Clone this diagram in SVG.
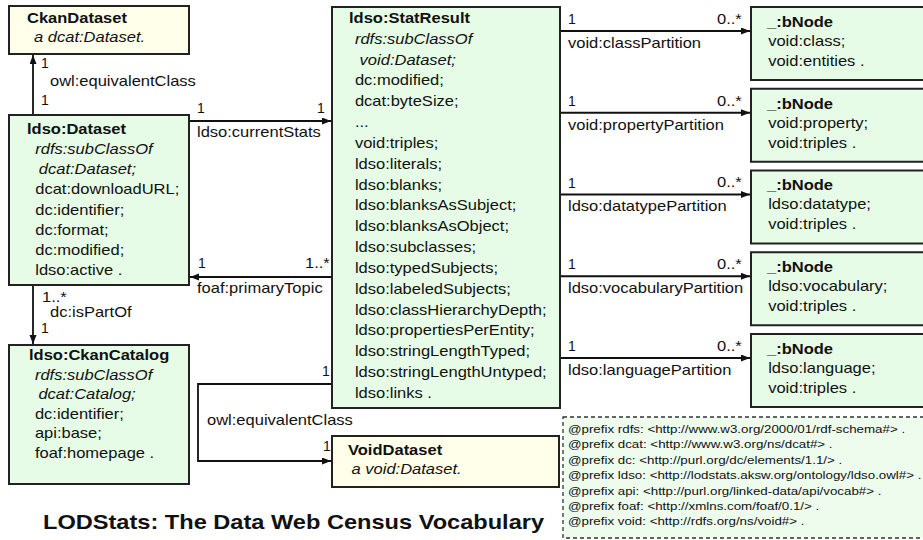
<svg xmlns="http://www.w3.org/2000/svg" width="923" height="540" viewBox="0 0 923 540">
<defs>
<style>
text{font-family:"Liberation Sans",Arial,sans-serif;font-size:14px;fill:#111}
.b{font-weight:bold}
.i{font-style:italic}
.green{fill:#E6FCE6;stroke:#222;stroke-width:2}
.yellow{fill:#FFFFEA;stroke:#222;stroke-width:2}
.con{fill:none;stroke:#111;stroke-width:1.8}
.pre{font-size:11.5px}
.ttl{font-size:20px;font-weight:bold}
</style>
<marker id="arr" markerUnits="userSpaceOnUse" markerWidth="10" markerHeight="8" refX="9" refY="3.5" orient="auto">
<path d="M0,0 L9,3.5 L0,7 z" fill="#111"/>
</marker>
</defs>
<rect width="923" height="540" fill="#fff"/>

<g id="connectors">
<path class="con" d="M33,115 V55" marker-end="url(#arr)"/>
<path class="con" d="M33,285 V344" marker-end="url(#arr)"/>
<path class="con" d="M189,121 H331" marker-end="url(#arr)"/>
<path class="con" d="M332,277 H190" marker-end="url(#arr)"/>
<path class="con" d="M332,384 H198 V461 H331" marker-end="url(#arr)"/>
<path class="con" d="M560,31 H750" marker-end="url(#arr)"/>
<path class="con" d="M560,112.75 H750" marker-end="url(#arr)"/>
<path class="con" d="M560,194.5 H750" marker-end="url(#arr)"/>
<path class="con" d="M560,276.25 H750" marker-end="url(#arr)"/>
<path class="con" d="M560,358 H750" marker-end="url(#arr)"/>

<text x="41" y="68">1</text>
<text x="50" y="86" transform="matrix(1.18 0 0 1 -9 0)">owl:equivalentClass</text>
<text x="41" y="105">1</text>

<text x="42" y="302" transform="matrix(1.18 0 0 1 -7.56 0)">1..*</text>
<text x="50" y="317" transform="matrix(1.18 0 0 1 -9 0)">dc:isPartOf</text>
<text x="41" y="333">1</text>

<text x="197" y="113">1</text>
<text x="317" y="113">1</text>
<text x="197" y="137" transform="matrix(1.18 0 0 1 -35.46 0)">ldso:currentStats</text>

<text x="198" y="268">1</text>
<text x="305" y="268" transform="matrix(1.18 0 0 1 -54.9 0)">1..*</text>
<text x="197" y="293" transform="matrix(1.18 0 0 1 -35.46 0)">foaf:primaryTopic</text>

<text x="322" y="376">1</text>
<text x="207" y="425" transform="matrix(1.18 0 0 1 -37.26 0)">owl:equivalentClass</text>
<text x="323" y="451">1</text>

<text x="568" y="24">1</text>
<text x="717" y="24" transform="matrix(1.18 0 0 1 -129.06 0)">0..*</text>
<text x="568" y="48" transform="matrix(1.18 0 0 1 -102.24 0)">void:classPartition</text>

<text x="568" y="105.75">1</text>
<text x="717" y="105.75" transform="matrix(1.18 0 0 1 -129.06 0)">0..*</text>
<text x="568" y="129.75" transform="matrix(1.18 0 0 1 -102.24 0)">void:propertyPartition</text>

<text x="568" y="187.5">1</text>
<text x="717" y="187.5" transform="matrix(1.18 0 0 1 -129.06 0)">0..*</text>
<text x="568" y="211.5" transform="matrix(1.18 0 0 1 -102.24 0)">ldso:datatypePartition</text>

<text x="568" y="269.25">1</text>
<text x="717" y="269.25" transform="matrix(1.18 0 0 1 -129.06 0)">0..*</text>
<text x="568" y="293.25" transform="matrix(1.18 0 0 1 -102.24 0)">ldso:vocabularyPartition</text>

<text x="568" y="351">1</text>
<text x="717" y="351" transform="matrix(1.18 0 0 1 -129.06 0)">0..*</text>
<text x="568" y="375" transform="matrix(1.18 0 0 1 -102.24 0)">ldso:languagePartition</text>
</g>

<g id="CkanDataset">
<rect class="yellow" x="9" y="6" width="180" height="48"/>
<text transform="matrix(1.18 0 0 1 -4.86 0)"><tspan class="b" x="27" y="23.5">CkanDataset</tspan><tspan class="i" x="33" y="42.5">a dcat:Dataset.</tspan></text>
</g>

<g id="ldsoDataset">
<rect class="green" x="9" y="115" width="180" height="170"/>
<text transform="matrix(1.18 0 0 1 -4.86 0)">
<tspan class="b" x="27" y="134">ldso:Dataset</tspan>
<tspan class="i" x="34" y="154.1">rdfs:subClassOf</tspan>
<tspan class="i" x="37" y="174.3">dcat:Dataset;</tspan>
<tspan x="34" y="194.4">dcat:downloadURL;</tspan>
<tspan x="34" y="214.6">dc:identifier;</tspan>
<tspan x="34" y="234.7">dc:format;</tspan>
<tspan x="34" y="254.9">dc:modified;</tspan>
<tspan x="34" y="275">ldso:active .</tspan>
</text>
</g>

<g id="CkanCatalog">
<rect class="green" x="9" y="345" width="180" height="139"/>
<text transform="matrix(1.18 0 0 1 -5.22 0)">
<tspan class="b" x="29" y="360">ldso:CkanCatalog</tspan>
<tspan class="i" x="34" y="379.6">rdfs:subClassOf</tspan>
<tspan class="i" x="37" y="399.2">dcat:Catalog;</tspan>
<tspan x="34" y="418.8">dc:identifier;</tspan>
<tspan x="34" y="438.4">api:base;</tspan>
<tspan x="34" y="458">foaf:homepage .</tspan>
</text>
</g>

<g id="StatResult">
<rect class="green" x="332" y="7" width="228" height="401"/>
<text transform="matrix(1.18 0 0 1 -62.82 0)">
<tspan class="b" x="349" y="23">ldso:StatResult</tspan>
<tspan class="i" x="354" y="43.83">rdfs:subClassOf</tspan>
<tspan class="i" x="358" y="64.66">void:Dataset;</tspan>
<tspan x="354" y="85.49">dc:modified;</tspan>
<tspan x="354" y="106.32">dcat:byteSize;</tspan>
<tspan x="354" y="127.15">...</tspan>
<tspan x="354" y="147.98">void:triples;</tspan>
<tspan x="354" y="168.81">ldso:literals;</tspan>
<tspan x="354" y="189.64">ldso:blanks;</tspan>
<tspan x="354" y="210.47">ldso:blanksAsSubject;</tspan>
<tspan x="354" y="231.3">ldso:blanksAsObject;</tspan>
<tspan x="354" y="252.13">ldso:subclasses;</tspan>
<tspan x="354" y="272.96">ldso:typedSubjects;</tspan>
<tspan x="354" y="293.79">ldso:labeledSubjects;</tspan>
<tspan x="354" y="314.62">ldso:classHierarchyDepth;</tspan>
<tspan x="354" y="335.45">ldso:propertiesPerEntity;</tspan>
<tspan x="354" y="356.28">ldso:stringLengthTyped;</tspan>
<tspan x="354" y="377.11">ldso:stringLengthUntyped;</tspan>
<tspan x="354" y="397.94">ldso:links .</tspan>
</text>
</g>

<g id="VoidDataset">
<rect class="yellow" x="332" y="436" width="227" height="51"/>
<text transform="matrix(1.18 0 0 1 -62.64 0)"><tspan class="b" x="348" y="455">VoidDataset</tspan><tspan class="i" x="351" y="474">a void:Dataset.</tspan></text>
</g>

<g id="bNode1">
<rect class="green" x="751" y="7" width="180" height="73"/>
<text transform="matrix(1.18 0 0 1 -138.06 0)"><tspan class="b" x="767" y="27">_:bNode</tspan><tspan x="768" y="46">void:class;</tspan><tspan x="768" y="66">void:entities .</tspan></text>
</g>
<g id="bNode2">
<rect class="green" x="751" y="88.75" width="180" height="73"/>
<text transform="matrix(1.18 0 0 1 -138.06 0)"><tspan class="b" x="767" y="108.75">_:bNode</tspan><tspan x="768" y="127.75">void:property;</tspan><tspan x="768" y="147.75">void:triples .</tspan></text>
</g>
<g id="bNode3">
<rect class="green" x="751" y="170.5" width="180" height="73"/>
<text transform="matrix(1.18 0 0 1 -138.06 0)"><tspan class="b" x="767" y="190.5">_:bNode</tspan><tspan x="768" y="209.5">ldso:datatype;</tspan><tspan x="768" y="229.5">void:triples .</tspan></text>
</g>
<g id="bNode4">
<rect class="green" x="751" y="252.25" width="180" height="73"/>
<text transform="matrix(1.18 0 0 1 -138.06 0)"><tspan class="b" x="767" y="272.25">_:bNode</tspan><tspan x="768" y="291.25">ldso:vocabulary;</tspan><tspan x="768" y="311.25">void:triples .</tspan></text>
</g>
<g id="bNode5">
<rect class="green" x="751" y="334" width="180" height="73"/>
<text transform="matrix(1.18 0 0 1 -138.06 0)"><tspan class="b" x="767" y="354">_:bNode</tspan><tspan x="768" y="373">ldso:language;</tspan><tspan x="768" y="393">void:triples .</tspan></text>
</g>

<g id="prefixes">
<rect x="563" y="417" width="370" height="121" fill="#EEFCEE" stroke="#333" stroke-width="1.3" stroke-dasharray="4,3"/>
<text class="pre" transform="matrix(1.16 0 0 1 -90.88 0)">
<tspan x="568" y="433">@prefix rdfs: &lt;http://www.w3.org/2000/01/rdf-schema#&gt; .</tspan>
<tspan x="568" y="448.4">@prefix dcat: &lt;http://www.w3.org/ns/dcat#&gt; .</tspan>
<tspan x="568" y="463.8">@prefix dc: &lt;http://purl.org/dc/elements/1.1/&gt; .</tspan>
<tspan x="568" y="479.2">@prefix ldso: &lt;http://lodstats.aksw.org/ontology/ldso.owl#&gt; .</tspan>
<tspan x="568" y="494.6">@prefix api: &lt;http://purl.org/linked-data/api/vocab#&gt; .</tspan>
<tspan x="568" y="510">@prefix foaf: &lt;http://xmlns.com/foaf/0.1/&gt; .</tspan>
<tspan x="568" y="525.4">@prefix void: &lt;http://rdfs.org/ns/void#&gt; .</tspan>
</text>
</g>

<g id="title">
<text class="ttl" x="43" y="529" transform="matrix(1.18 0 0 1 -7.74 0)">LODStats: The Data Web Census Vocabulary</text>
</g>
</svg>
